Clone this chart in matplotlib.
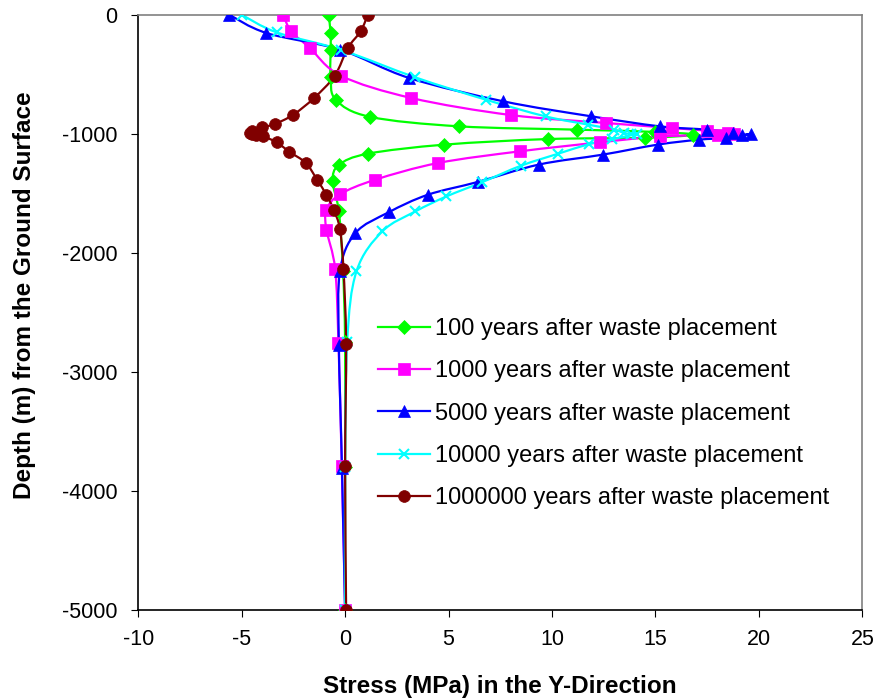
import numpy as np
import matplotlib.pyplot as plt
from matplotlib.path import Path
from matplotlib.patches import PathPatch

plt.rcParams['font.family'] = ['Liberation Sans', 'DejaVu Sans']
plt.rcParams['axes.unicode_minus'] = False

# Stress (MPa) and depth (m) for each time after waste placement
x_100 = [-0.8, -0.7, -0.7, -0.7, -0.45, 1.2, 5.5, 11.2, 15.0, 16.8, 14.5, 9.8, 4.8, 1.1, -0.3, -0.6, -0.3, -0.1, 0.0, 0.0, 0.0]
d_100 = [0, -150, -300, -520, -715, -858, -938, -966, -985, -1008, -1035, -1045, -1092, -1168, -1263, -1400, -1653, -2150, -2750, -3800, -5000]

x_1000 = [-3.0, -2.6, -1.7, -0.2, 3.2, 8.0, 12.6, 15.8, 17.5, 18.5, 18.8, 18.0, 15.2, 12.3, 8.45, 4.5, 1.45, -0.25, -0.9, -0.9, -0.48, -0.32, -0.16, 0.0]
d_1000 = [0, -140, -280, -513, -700, -843, -910, -952, -975, -990, -1002, -1012, -1023, -1073, -1148, -1246, -1387, -1510, -1639, -1807, -2137, -2759, -3796, -5000]

x_5000 = [-5.6, -3.8, -0.25, 3.1, 7.65, 11.9, 15.2, 17.5, 18.75, 19.2, 19.6, 18.4, 17.1, 15.1, 12.45, 9.35, 6.4, 4.0, 2.1, 0.5, -0.25, -0.3, -0.15, 0.0]
d_5000 = [0, -154, -294, -532, -728, -854, -938, -966, -992, -1008, -1003, -1036, -1050, -1092, -1176, -1260, -1406, -1513, -1661, -1835, -2157, -2773, -3807, -5000]

x_10000 = [-5.0, -3.3, -0.2, 3.4, 6.8, 9.7, 11.75, 13.0, 13.5, 13.8, 14.1, 12.9, 11.8, 10.3, 8.5, 6.6, 4.9, 3.4, 1.8, 0.55, 0.1, 0.0, 0.0]
d_10000 = [0, -149, -295, -527, -714, -855, -924, -966, -995, -1000, -1003, -1045, -1087, -1168, -1269, -1409, -1527, -1653, -1821, -2157, -2750, -3800, -5000]

x_1e6 = [1.1, 0.75, 0.13, -0.5, -1.5, -2.5, -3.4, -4.0, -4.5, -4.6, -4.5, -4.3, -3.95, -3.3, -2.7, -1.9, -1.35, -0.9, -0.55, -0.25, -0.08, 0.05, 0.0, 0.05]
d_1e6 = [0, -140, -280, -513, -700, -840, -919, -947, -980, -992, -1002, -1012, -1023, -1073, -1151, -1246, -1387, -1515, -1639, -1801, -2134, -2765, -3796, -5000]

series = [
    (x_100, d_100, '#00ff00', 'D', 7.5, '100 years after waste placement'),
    (x_1000, d_1000, '#ff00ff', 's', 8, '1000 years after waste placement'),
    (x_5000, d_5000, '#0000ff', '^', 8.5, '5000 years after waste placement'),
    (x_10000, d_10000, '#00ffff', 'x', 7, '10000 years after waste placement'),
    (x_1e6, d_1e6, '#800000', 'o', 8.5, '1000000 years after waste placement'),
]


def smooth_path(xs, ys):
    # cubic Bezier through every point, like a spreadsheet "smoothed line"
    p = np.column_stack([xs, ys]).astype(float)
    n = len(p)
    verts = [p[0]]
    codes = [Path.MOVETO]
    for i in range(n - 1):
        p0 = p[i - 1] if i > 0 else p[i]
        p1, p2 = p[i], p[i + 1]
        p3 = p[i + 2] if i + 2 < n else p[i + 1]
        verts += [p1 + (p2 - p0) / 6, p2 - (p3 - p1) / 6, p2]
        codes += [Path.CURVE4] * 3
    return Path(verts, codes)


fig = plt.figure(figsize=(8.8, 7), dpi=100)
ax = fig.add_axes([0.157, 0.129, 0.823, 0.850])

for xs, ds, color, marker, ms, label in series:
    mew = 1.5 if marker == 'x' else 0.5
    ax.add_patch(PathPatch(smooth_path(xs, ds), fill=False, edgecolor=color, lw=1.6, zorder=2))
    ax.plot(xs, ds, linestyle='none', marker=marker, color=color, markersize=ms,
            markeredgewidth=mew, zorder=3)
    ax.plot([], [], color=color, lw=1.6, marker=marker, markersize=ms,
            markeredgewidth=mew, label=label)

ax.set_xlim(-10, 25)
ax.set_ylim(-5000, 0)
ax.set_xticks(range(-10, 26, 5))
ax.set_yticks(range(-5000, 1, 1000))
ax.tick_params(direction='out', length=5, labelsize=15.5, top=False, right=False)
ax.tick_params(axis='x', pad=9)
ax.tick_params(axis='y', pad=10)
ax.spines['top'].set_color('#808080')
ax.spines['right'].set_color('#808080')
for s in ax.spines.values():
    s.set_linewidth(1.2)

ax.set_xlabel('Stress (MPa) in the Y-Direction', fontsize=17.5, fontweight='bold')
ax.set_ylabel('Depth (m) from the Ground Surface', fontsize=17.5, fontweight='bold')
ax.xaxis.set_label_coords(0.5, -0.11)
ax.yaxis.set_label_coords(-0.141, 0.528)

ax.legend(loc='upper left', bbox_to_anchor=(0.3315, 0.49), frameon=False, fontsize=17,
          borderpad=0, borderaxespad=0, handlelength=2.2, handletextpad=0.2,
          labelspacing=0.86)

fig.savefig('out.png', dpi=100)
